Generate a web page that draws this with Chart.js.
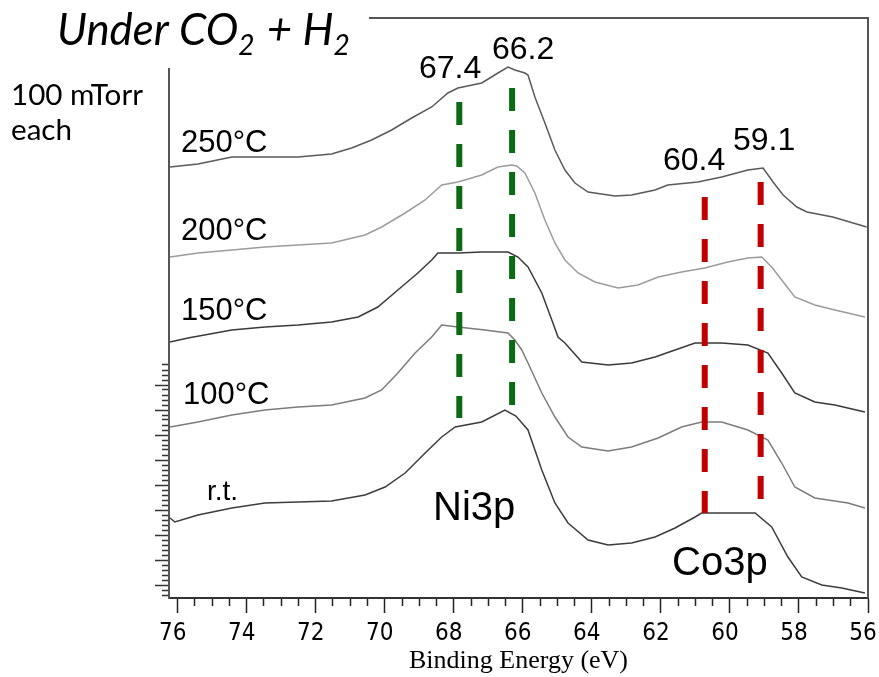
<!DOCTYPE html>
<html><head><meta charset="utf-8">
<script src="https://cdn.jsdelivr.net/npm/chart.js@4.4.1/dist/chart.umd.min.js"></script>
<style>html,body{margin:0;padding:0;background:#fff}</style>
</head><body>
<canvas id="c" width="879" height="677"></canvas>
<script>
// ---- data (binding energy in eV, intensity in arbitrary units) ----
const xTickLabels = [76, 74, 72, 70, 68, 66, 64, 62, 60, 58, 56];

const e250 = [76.22, 75.41, 74.43, 73.47, 72.51, 71.54, 70.96, 70.38, 69.80, 69.22, 68.64, 68.17, 67.88, 67.19, 66.72, 66.43, 66.23, 65.94, 65.85, 65.65, 65.36, 65.07, 64.78, 64.49, 64.11, 63.33, 62.85, 62.17, 61.80, 60.93, 60.24, 59.48, 59.04, 58.75, 58.46, 58.06, 57.77, 57.02, 56.04];
const i250 = [433, 436, 443, 443, 443, 446, 452, 460, 470, 482, 493, 507, 512, 517, 527, 533, 530, 527, 525, 503, 477, 450, 430, 417, 408, 404, 405, 410, 415, 418, 423, 430, 432, 418, 405, 393, 388, 383, 373];

const e200 = [76.22, 75.41, 74.43, 73.47, 72.51, 71.54, 70.57, 70.09, 69.41, 68.83, 68.35, 67.88, 67.19, 66.72, 66.32, 66.18, 65.94, 65.65, 65.36, 65.07, 64.78, 64.40, 63.91, 63.24, 62.66, 62.08, 61.40, 60.73, 60.06, 59.48, 59.08, 58.79, 58.50, 58.12, 57.54, 56.96, 56.09];
const i200 = [343, 347, 350, 353, 355, 357, 365, 373, 387, 400, 415, 418, 425, 433, 435, 434, 427, 407, 380, 357, 340, 327, 318, 312, 315, 323, 328, 332, 338, 342, 343, 333, 320, 303, 295, 290, 283];

const e150 = [76.22, 75.70, 74.43, 73.47, 72.51, 71.54, 70.77, 70.20, 69.62, 69.04, 68.64, 68.46, 67.88, 67.19, 66.43, 66.14, 65.85, 65.45, 65.16, 64.98, 64.78, 64.29, 63.53, 62.85, 62.17, 61.59, 61.01, 60.24, 59.48, 58.90, 58.50, 58.12, 57.54, 56.96, 56.09];
const i150 = [258, 262, 270, 273, 275, 278, 283, 293, 310, 327, 340, 347, 347, 348, 348, 343, 333, 307, 280, 263, 257, 238, 235, 237, 243, 250, 257, 257, 255, 247, 227, 207, 198, 195, 188];

const e100 = [76.22, 75.41, 74.43, 73.47, 72.51, 71.54, 70.57, 70.09, 69.62, 69.12, 68.64, 68.35, 67.88, 67.10, 66.43, 66.23, 66.03, 65.85, 65.45, 65.07, 64.69, 64.29, 63.53, 62.85, 62.08, 61.40, 60.82, 60.24, 59.48, 58.90, 58.50, 58.12, 57.54, 56.58, 56.09];
const i100 = [173, 178, 185, 190, 193, 195, 202, 210, 227, 247, 263, 275, 273, 270, 267, 260, 250, 237, 207, 183, 163, 153, 149, 153, 162, 173, 178, 178, 170, 160, 137, 113, 102, 97, 92];

const eRT = [76.22, 76.08, 75.41, 74.43, 73.47, 72.51, 71.54, 70.57, 69.99, 69.41, 68.83, 68.35, 67.96, 67.19, 66.52, 66.20, 65.85, 65.45, 65.07, 64.69, 64.11, 63.53, 62.85, 62.17, 61.59, 61.01, 60.82, 59.27, 58.79, 58.32, 57.92, 57.34, 56.76, 56.09];
const iRT = [82, 78, 85, 92, 97, 98, 99, 105, 113, 127, 147, 163, 173, 178, 190, 184, 170, 130, 97, 77, 60, 55, 57, 63, 72, 83, 87, 87, 73, 43, 23, 15, 12, 7];

const seriesNames = ['250°C', '200°C', '150°C', '100°C', 'r.t.'];

// dashed reference lines: Ni3p (67.4 / 66.2) and Co3p (60.4 / 59.1)
const dashEnergies = [67.84, 66.31, 60.73, 59.11];
const dashTop = [498, 512, 403, 418];
const dashBottom = [182, 195, 87, 100];
const peakLabels = ['67.4', '66.2', '60.4', '59.1'];

// ---- build ----
const pts = (xs, ys) => xs.map((x, i) => ({x: x, y: ys[i]}));
const curveColors = ['#5a5a5a', '#9c9c9c', '#3a3a3a', '#7c7c7c', '#3c3c3c'];
const curves = [[e250, i250], [e200, i200], [e150, i150], [e100, i100], [eRT, iRT]];
const dashColors = ['#0b6b12', '#0b6b12', '#c00000', '#c00000'];

const datasets = [];
dashEnergies.forEach((e, k) => {
  datasets.push({
    label: 'ref ' + peakLabels[k],
    data: [{x: e, y: dashTop[k]}, {x: e, y: dashBottom[k]}],
    borderColor: dashColors[k], borderWidth: 6, borderDash: [23, 19],
    borderCapStyle: 'butt', pointRadius: 0, fill: false
  });
});
curves.forEach((c, k) => {
  datasets.push({
    label: seriesNames[k], data: pts(c[0], c[1]),
    borderColor: curveColors[k], borderWidth: 1.5, pointRadius: 0,
    tension: 0, fill: false
  });
});

const LS = '"Liberation Sans", Arial, sans-serif';
const textPlugin = {
  id: 'texts',
  afterDraw(chart) {
    const ctx = chart.ctx, a = chart.chartArea;
    ctx.save();
    // top and right frame
    ctx.strokeStyle = '#555'; ctx.lineWidth = 2;
    ctx.beginPath();
    ctx.moveTo(a.left - 1, a.top); ctx.lineTo(a.right, a.top); ctx.lineTo(a.right, a.bottom);
    ctx.stroke();
    // white box behind title
    ctx.fillStyle = '#fff';
    ctx.fillRect(150, 0, 219, 68);

    ctx.fillStyle = '#000';
    ctx.textBaseline = 'alphabetic';
    ctx.textAlign = 'left';
    // title: Under CO2 + H2
    const parts = [['Under CO', 0], ['2', 1], [' + H', 0], ['2', 1]];
    const fam = 'Lato, "Open Sans", sans-serif';
    let S = 33;
    const measure = (s) => {
      let w = 0;
      parts.forEach(p => { ctx.font = 'italic ' + (p[1] ? s * 0.64 : s) + 'px ' + fam; w += ctx.measureText(p[0]).width; });
      return w;
    };
    S = S * 291 / measure(S);
    let x = 57;
    parts.forEach(p => {
      ctx.font = 'italic ' + (p[1] ? S * 0.64 : S) + 'px ' + fam;
      ctx.fillText(p[0], x, p[1] ? 55 : 45);
      x += ctx.measureText(p[0]).width + (p[1] ? 2 : 0);
    });
    // 100 mTorr each
    let s2 = 28;
    ctx.font = s2 + 'px ' + fam;
    s2 = s2 * 132 / ctx.measureText('100 mTorr').width;
    ctx.font = s2 + 'px ' + fam;
    ctx.fillText('100 mTorr', 11, 105);
    ctx.fillText('each', 11, 140);

    // series labels
    ctx.font = '31px ' + LS;
    ctx.fillText('250°C', 181, 152);
    ctx.fillText('200°C', 181, 240);
    ctx.fillText('150°C', 181, 320);
    ctx.fillText('100°C', 183, 404);
    ctx.font = '28px ' + LS;
    ctx.fillText('r.t.', 207, 500);
    // peak labels
    ctx.font = '32px ' + LS;
    ctx.fillText(peakLabels[0], 419, 78);
    ctx.fillText(peakLabels[1], 492, 59);
    ctx.fillText(peakLabels[2], 663, 170);
    ctx.fillText(peakLabels[3], 733, 150);
    ctx.font = '40px ' + LS;
    ctx.fillText('Ni3p', 433, 520);
    ctx.fillText('Co3p', 672, 575);
    ctx.restore();
  }
};

new Chart(document.getElementById('c'), {
  type: 'line',
  data: {datasets: datasets},
  plugins: [textPlugin],
  options: {
    responsive: false, animation: false,
    layout: {padding: {left: 155, right: 11, top: 18, bottom: 0}},
    plugins: {legend: {display: false}, tooltip: {enabled: false}},
    scales: {
      x: {
        type: 'linear', reverse: true, min: 56, max: 76.25,
        afterBuildTicks: (s) => {
          const t = [];
          for (let k = 0; k <= 40; k++) t.push({value: 56 + k * 0.5});
          s.ticks = t;
        },
        ticks: {
          autoSkip: false, maxRotation: 0, minRotation: 0, padding: 6, color: '#000', labelOffset: -5,
          font: {family: '"Liberation Sans Narrow", "DejaVu Sans Condensed", "Liberation Sans", sans-serif', size: 24},
          callback: (v) => xTickLabels.includes(v) ? String(v) : ''
        },
        grid: {
          drawOnChartArea: false, tickLength: 15, tickColor: '#222', tickWidth: 1.5,
          tickBorderDash: (c) => (c.tick && xTickLabels.includes(c.tick.value)) ? [] : [7, 100]
        },
        border: {color: '#333', width: 2},
        title: {display: true, text: 'Binding Energy (eV)', color: '#000',
          font: {family: '"Liberation Serif", "Times New Roman", serif', size: 26}, padding: {top: 0, bottom: 0}},
        afterFit: (s) => { s.height = 79; }
      },
      y: {
        type: 'linear', min: 2, max: 582,
        afterBuildTicks: (s) => {
          const t = [];
          for (let v = 5; v <= 235; v += 5) t.push({value: v});
          s.ticks = t;
        },
        ticks: {display: false},
        grid: {
          drawOnChartArea: false, tickLength: 14, tickColor: '#333', tickWidth: 1.5,
          tickBorderDash: (c) => (c.tick && (c.tick.value - 15) % 25 === 0) ? [] : [0, 7, 7, 100]
        },
        border: {color: '#555', width: 2},
        afterFit: (s) => { s.width = 14; }
      }
    }
  }
});
</script>
</body></html>
